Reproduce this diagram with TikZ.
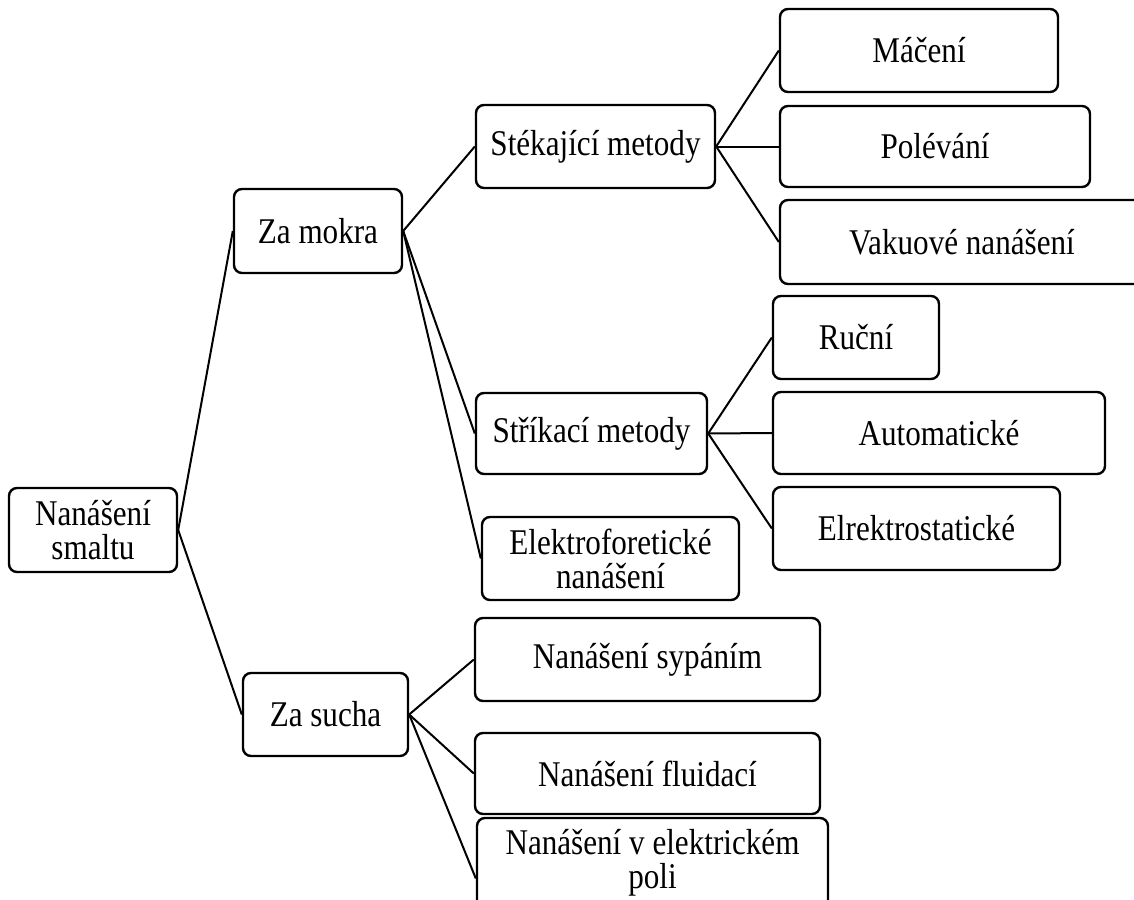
\documentclass[tikz,border=0pt]{standalone}
\usepackage{fontspec}
\setmainfont{Liberation Serif}[FakeStretch=0.86]
\usepackage{xcolor}
\usetikzlibrary{positioning}

\begin{document}
\begin{tikzpicture}[x=0.5pt, y=-0.5pt,
    box/.style={draw=black, line width=1.2pt, rounded corners=4pt, align=center,
      inner sep=0pt, font=\fontsize{18.1}{17}\selectfont},
    boxsize/.style 2 args={minimum width=#1*0.5pt, minimum height=#2*0.5pt},
    link/.style={draw=black, line width=1pt}]
    \clip (0,0) rectangle (1134,899); % page size in px

    % Root
    \node[box, boxsize={168}{84}] (root) at (93,530) {Nanášení\\smaltu};

    % Second level
    \node[box, boxsize={168}{84}] (mokra) at (318,231) {Za mokra};
    \node[box, boxsize={165}{83}] (sucha) at (325.5,714.5) {Za sucha};

    % Wet methods
    \node[box, boxsize={239}{83}] (stek) at (595.5,146.5) {Stékající metody};
    \node[box, boxsize={231}{81}] (strik) at (591.5,433.5) {Stříkací metody};
    \node[box, boxsize={257}{83}] (elfor) at (610.5,558.5) {Elektroforetické\\nanášení};

    \node[box, boxsize={278}{83}] (macen) at (919,50.5) {Máčení};
    \node[box, boxsize={310}{81}] (polev) at (935,146.5) {Polévání};
    \node[box, boxsize={364}{84}] (vakuo) at (962,242) {Vakuové nanášení};

    \node[box, boxsize={166}{83}] (rucni) at (856,337.5) {Ruční};
    \node[box, boxsize={332}{82}] (autom) at (939,433) {Automatické};
    \node[box, boxsize={287}{83}] (elrek) at (916.5,528.5) {Elrektrostatické};

    % Dry methods
    \node[box, boxsize={345}{83}] (sypan) at (647.5,659.5) {Nanášení sypáním};
    \node[box, boxsize={345}{81}] (fluid) at (647.5,773.5) {Nanášení fluidací};
    \node[box, boxsize={351}{90}] (elpol) at (652.5,863) {Nanášení v elektrickém\\poli};

    % Connectors
    \foreach \c in {mokra,sucha}
      \draw[link] (root.east) -- (\c.west);
    \foreach \c in {stek,strik,elfor}
      \draw[link] (mokra.east) -- (\c.west);
    \foreach \c in {macen,polev,vakuo}
      \draw[link] (stek.east) -- (\c.west);
    \foreach \c in {rucni,autom,elrek}
      \draw[link] (strik.east) -- (\c.west);
    \foreach \c in {sypan,fluid}
      \draw[link] (sucha.east) -- (\c.west);
    \draw[link] (sucha.east) -- (elpol.185);
\end{tikzpicture}
\end{document}
